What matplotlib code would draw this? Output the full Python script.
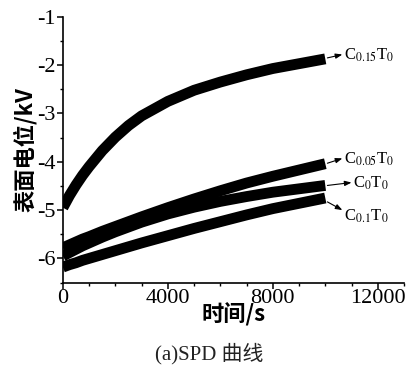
import numpy as np
import matplotlib
matplotlib.use('Agg')
import matplotlib.pyplot as plt
from matplotlib.ticker import MultipleLocator

plt.rcParams['font.family'] = ['Liberation Serif', 'Noto Sans CJK SC']
plt.rcParams['mathtext.fontset'] = 'stix'
plt.rcParams['axes.unicode_minus'] = False

# decay time (s) and surface potential (kV)
time_s = [0, 250, 500, 750, 1000, 1500, 2000, 2500, 3000, 4000, 5000,
          6000, 7000, 8000, 9000, 10000]
c015_t0 = [-4.95, -4.70, -4.48, -4.28, -4.10, -3.77, -3.49, -3.25, -3.05, -2.75,
           -2.52, -2.35, -2.20, -2.07, -1.97, -1.87]
c005_t0 = [-5.78, -5.72, -5.66, -5.60, -5.55, -5.44, -5.34, -5.24, -5.14, -4.95,
           -4.77, -4.60, -4.44, -4.30, -4.17, -4.04]
c0_t0 = [-5.95, -5.88, -5.81, -5.74, -5.68, -5.56, -5.45, -5.35, -5.25, -5.08,
         -4.94, -4.82, -4.72, -4.63, -4.56, -4.49]
c01_t0 = [-6.18, -6.13, -6.09, -6.04, -6.00, -5.92, -5.84, -5.76, -5.68, -5.53,
          -5.38, -5.24, -5.10, -4.97, -4.86, -4.75]

series = [c015_t0, c005_t0, c0_t0, c01_t0]
labels = [r'C$_{0.15}$T$_0$', r'C$_{0.05}$T$_0$', r'C$_0$T$_0$', r'C$_{0.1}$T$_0$']
# arrow tail (band end), arrow head, text position
arrows = [((10080, -1.85), (10650, -1.78)),
          ((10080, -4.03), (10650, -3.93)),
          ((10080, -4.49), (11000, -4.43)),
          ((10080, -4.83), (10650, -5.00))]
text_pos = [(10720, -1.80), (10720, -3.95), (11050, -4.45), (10720, -5.12)]

fig = plt.figure(figsize=(4.11, 3.66), dpi=100)
ax = fig.add_axes([0.153, 0.228, 0.83, 0.726])

for vals in series:
    ax.plot(time_s, vals, color='black', lw=7.8, solid_capstyle='butt',
            solid_joinstyle='round')

for lab, (tail, head), pos in zip(labels, arrows, text_pos):
    ax.annotate('', xy=head, xytext=tail,
                arrowprops=dict(arrowstyle='-|>,head_length=0.4,head_width=0.15',
                                color='black', lw=0.8, shrinkA=0, shrinkB=0))
    ax.text(pos[0], pos[1], lab, fontsize=12, va='center', ha='left')

ax.set_xlim(0, 13000)
ax.set_ylim(-6.5, -1)
ax.xaxis.set_major_locator(MultipleLocator(4000))
ax.xaxis.set_minor_locator(MultipleLocator(1000))
ax.yaxis.set_major_locator(MultipleLocator(1))
ax.yaxis.set_minor_locator(MultipleLocator(0.5))
ax.spines['top'].set_visible(False)
ax.spines['right'].set_visible(False)
for s in ['left', 'bottom']:
    ax.spines[s].set_linewidth(1.2)
ax.tick_params(which='major', direction='out', length=4, width=1.1, labelsize=16, pad=1)
ax.tick_params(which='minor', direction='out', length=2.5, width=1.0)

ax.set_xlabel('时间/s', fontsize=16, fontweight='bold',
              family=['Noto Sans CJK SC', 'DejaVu Sans'], labelpad=-4)
ax.set_ylabel('表面电位/kV', fontsize=16, fontweight='bold',
              family=['Noto Sans CJK SC', 'DejaVu Sans'], labelpad=0)

fig.text(0.51, 0.035, '(a)SPD 曲线', fontsize=15, ha='center', va='center',
         family=['Liberation Serif', 'Noto Sans CJK SC'], color='#222222')

fig.savefig('out.png', dpi=100)
